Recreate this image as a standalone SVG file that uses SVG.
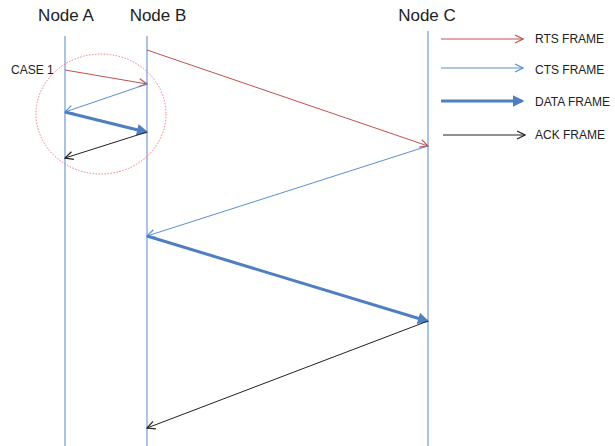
<svg xmlns="http://www.w3.org/2000/svg" width="615" height="446" viewBox="0 0 615 446">
<style>
.lbl{font-family:"Liberation Sans",Arial,sans-serif;fill:#222}
.node{font-size:17px}
.small{font-size:12px}
.life{stroke:#7FA3D6;stroke-width:1.3}
.rts{stroke:#C0504D;stroke-width:1;fill:none}
.cts{stroke:#5B8ED0;stroke-width:1;fill:none}
.data{stroke:#4F7FC0;stroke-width:3;fill:none}
.ack{stroke:#222;stroke-width:1;fill:none}
</style>
<defs>
<marker id="mr" viewBox="0 0 10 10" refX="9" refY="5" markerWidth="10" markerHeight="10" markerUnits="userSpaceOnUse" orient="auto"><path d="M1,1 L9,5 L1,9" fill="none" stroke="#C0504D" stroke-width="1.2"/></marker>
<marker id="mb" viewBox="0 0 10 10" refX="9" refY="5" markerWidth="10" markerHeight="10" markerUnits="userSpaceOnUse" orient="auto"><path d="M1,1 L9,5 L1,9" fill="none" stroke="#5B8ED0" stroke-width="1.2"/></marker>
<marker id="md" viewBox="0 0 10 10" refX="8" refY="5" markerWidth="12" markerHeight="12" markerUnits="userSpaceOnUse" orient="auto"><path d="M1,1 L9,5 L1,9 Z" fill="#4F7FC0" stroke="#4F7FC0" stroke-width="1"/></marker>
<marker id="mk" viewBox="0 0 10 10" refX="9" refY="5" markerWidth="10" markerHeight="10" markerUnits="userSpaceOnUse" orient="auto"><path d="M1,1 L9,5 L1,9" fill="none" stroke="#222" stroke-width="1.2"/></marker>
</defs>
<g id="nodeA"><text class="lbl node" x="66" y="21" text-anchor="middle">Node A</text><line class="life" x1="65" y1="36" x2="65" y2="446"/></g>
<g id="nodeB"><text class="lbl node" x="158" y="21" text-anchor="middle">Node B</text><line class="life" x1="147" y1="36" x2="147" y2="446"/></g>
<g id="nodeC"><text class="lbl node" x="427" y="21" text-anchor="middle">Node C</text><line class="life" x1="428" y1="31" x2="428" y2="446"/></g>
<g id="case1"><ellipse cx="101" cy="114" rx="65" ry="60" fill="none" stroke="#F27A7A" stroke-width="1" stroke-dasharray="1.5,1.5"/><text class="lbl small" x="11" y="74">CASE 1</text></g>
<g id="connectors">
<line class="rts" x1="65" y1="70" x2="147" y2="84" marker-end="url(#mr)"/>
<line class="cts" x1="147" y1="84" x2="65" y2="112" marker-end="url(#mb)"/>
<line class="data" x1="65" y1="112" x2="146" y2="132" marker-end="url(#md)"/>
<line class="ack" x1="147" y1="132" x2="65" y2="158" marker-end="url(#mk)"/>
<line class="rts" x1="147" y1="50" x2="428" y2="146" marker-end="url(#mr)"/>
<line class="cts" x1="428" y1="146" x2="147" y2="236" marker-end="url(#mb)"/>
<line class="data" x1="147" y1="236" x2="427" y2="321" marker-end="url(#md)"/>
<line class="ack" x1="428" y1="321" x2="147" y2="428" marker-end="url(#mk)"/>
</g>
<g id="legend">
<line class="rts" x1="441" y1="39" x2="523" y2="39" marker-end="url(#mr)"/><text class="lbl small" x="535" y="43">RTS FRAME</text>
<line class="cts" x1="441" y1="68" x2="523" y2="68" marker-end="url(#mb)"/><text class="lbl small" x="535" y="74">CTS FRAME</text>
<line class="data" x1="441" y1="101" x2="522" y2="101" marker-end="url(#md)"/><text class="lbl small" x="535" y="106">DATA FRAME</text>
<line class="ack" x1="443" y1="135" x2="525" y2="135" marker-end="url(#mk)"/><text class="lbl small" x="535" y="139">ACK FRAME</text>
</g>
</svg>
